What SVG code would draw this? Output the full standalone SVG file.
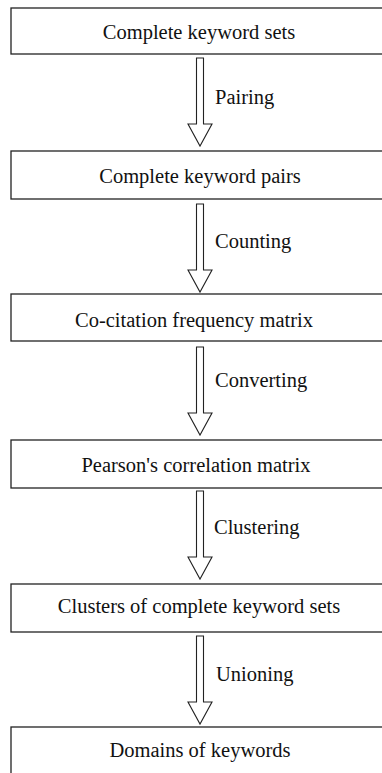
<svg xmlns="http://www.w3.org/2000/svg" width="382" height="773" viewBox="0 0 382 773">
  <style>
    .box { fill: #ffffff; stroke: #222222; stroke-width: 1.3; }
    text { font-family: 'Liberation Serif', 'Times New Roman', Times, serif; font-size: 20.5px; fill: #111111; }
    .label { text-anchor: middle; }
    .arrow { fill: #ffffff; stroke: #222222; stroke-width: 1.1; stroke-linejoin: miter; }
  </style>
  <defs>
    <!-- hollow block arrow, origin at top of shaft, 88 px long -->
    <path id="blockArrow" d="M -3.5 0 L 3.5 0 L 3.5 66 L 12 66 L 0 88 L -12 66 L -3.5 66 Z"/>
  </defs>
  <rect width="382" height="773" fill="#ffffff"/>

  <g id="node-keyword-sets">
    <rect class="box" x="11" y="8" width="390" height="46"/>
    <text class="label" x="199" y="39">Complete keyword sets</text>
  </g>
  <g id="node-keyword-pairs">
    <rect class="box" x="11" y="151" width="390" height="48"/>
    <text class="label" x="200" y="183">Complete keyword pairs</text>
  </g>
  <g id="node-cocitation">
    <rect class="box" x="11" y="294" width="390" height="47"/>
    <text class="label" x="194" y="327">Co-citation frequency matrix</text>
  </g>
  <g id="node-pearson">
    <rect class="box" x="11" y="440" width="390" height="48"/>
    <text class="label" x="196" y="472">Pearson's correlation matrix</text>
  </g>
  <g id="node-clusters">
    <rect class="box" x="11" y="584" width="390" height="48"/>
    <text class="label" x="199" y="613">Clusters of complete keyword sets</text>
  </g>
  <g id="node-domains">
    <rect class="box" x="11" y="727" width="390" height="60"/>
    <text class="label" x="200" y="757">Domains of keywords</text>
  </g>

  <g id="connectors">
    <use href="#blockArrow" class="arrow" transform="translate(200,58)"/>
    <text x="215" y="104">Pairing</text>
    <use href="#blockArrow" class="arrow" transform="translate(200,204)"/>
    <text x="215" y="248">Counting</text>
    <use href="#blockArrow" class="arrow" transform="translate(200,347)"/>
    <text x="215" y="387">Converting</text>
    <use href="#blockArrow" class="arrow" transform="translate(200,491)"/>
    <text x="214" y="534">Clustering</text>
    <use href="#blockArrow" class="arrow" transform="translate(200,636)"/>
    <text x="216" y="681">Unioning</text>
  </g>
</svg>
